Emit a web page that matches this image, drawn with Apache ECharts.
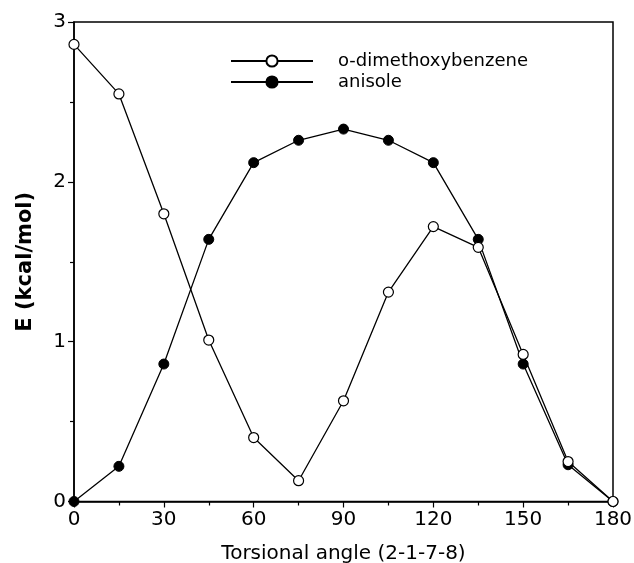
<!DOCTYPE html>
<html><head><meta charset="utf-8">
<script src="https://cdn.jsdelivr.net/npm/echarts@6/dist/echarts.min.js"></script>
<style>html,body{margin:0;padding:0;background:#fff}#c{width:634px;height:563px}</style>
</head><body><div id="c"></div>
<script>
const angles = [0, 15, 30, 45, 60, 75, 90, 105, 120, 135, 150, 165, 180];
const dimethoxy = [2.86, 2.55, 1.80, 1.01, 0.40, 0.13, 0.63, 1.31, 1.72, 1.59, 0.92, 0.25, 0.00];
const anisole = [0.00, 0.22, 0.86, 1.64, 2.12, 2.26, 2.33, 2.26, 2.12, 1.64, 0.86, 0.23, 0.00];
const seriesNames = ['o-dimethoxybenzene', 'anisole'];
const xTitle = 'Torsional angle (2-1-7-8)';
const yTitle = 'E (kcal/mol)';

const font = '"DejaVu Sans", Verdana, sans-serif';
const chart = echarts.init(document.getElementById('c'), null, {renderer: 'canvas'});
const pair = (ys) => angles.map((a, i) => [a, ys[i]]);
chart.setOption({
  animation: false,
  backgroundColor: '#fff',
  grid: {left: 74, right: 21, top: 22, bottom: 61.5, outerBoundsMode: 'none', containLabel: false,
         show: true, borderColor: '#000', borderWidth: 1.5, backgroundColor: 'transparent'},
  legend: {
    left: 230, top: 52, padding: 0, orient: 'vertical', itemGap: 3, itemWidth: 82, itemHeight: 14,
    textStyle: {fontFamily: font, fontSize: 18, color: '#000', padding: [0, 0, 0, 20]},
    data: seriesNames
  },
  xAxis: {
    type: 'value', min: 0, max: 180, interval: 30,
    name: xTitle, nameLocation: 'middle', nameGap: 42,
    nameTextStyle: {fontFamily: font, fontSize: 20, color: '#000'},
    axisLine: {lineStyle: {color: '#000', width: 1.5}},
    axisTick: {show: true, inside: false, length: 6, lineStyle: {color: '#000', width: 1.2}},
    minorTick: {show: true, splitNumber: 2, length: 4, lineStyle: {color: '#000', width: 1.2}},
    axisLabel: {fontFamily: font, fontSize: 20, color: '#000', margin: 8},
    splitLine: {show: false}
  },
  yAxis: {
    type: 'value', min: 0, max: 3, interval: 1,
    name: yTitle, nameLocation: 'middle', nameGap: 38,
    nameTextStyle: {fontFamily: font, fontSize: 21, fontWeight: 'bold', color: '#000'},
    axisLine: {show: true, lineStyle: {color: '#000', width: 1.5}},
    axisTick: {show: true, inside: false, length: 6, lineStyle: {color: '#000', width: 1.2}},
    minorTick: {show: true, splitNumber: 2, length: 4, lineStyle: {color: '#000', width: 1.2}},
    axisLabel: {fontFamily: font, fontSize: 20, color: '#000', margin: 8},
    splitLine: {show: false}
  },
  series: [
    {name: seriesNames[0], type: 'line', data: pair(dimethoxy), symbol: 'circle', symbolSize: 10, z: 3,
     lineStyle: {color: '#000', width: 1.3}, itemStyle: {color: '#fff', borderColor: '#000', borderWidth: 1.2}},
    {name: seriesNames[1], type: 'line', data: pair(anisole), symbol: 'circle', symbolSize: 10, z: 2,
     lineStyle: {color: '#000', width: 1.3}, itemStyle: {color: '#000', borderColor: '#000', borderWidth: 1}}
  ]
});
</script></body></html>
